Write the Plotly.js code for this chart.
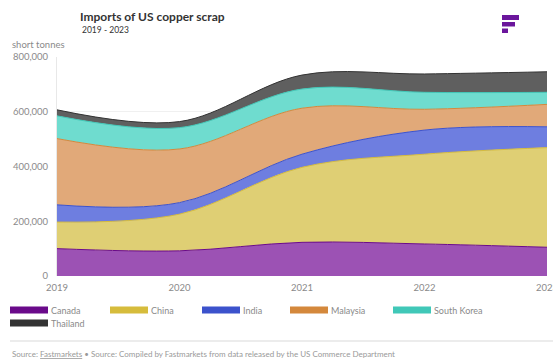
<!DOCTYPE html>
<html><head><meta charset="utf-8">
<script src="https://cdn.plot.ly/plotly-3.0.1.min.js"></script>
<style>html,body{margin:0;padding:0;background:#fff}#chart{width:553px;height:363px}</style>
</head><body><div id="chart"></div>
<script>
// ---- data ----
const years = [2019, 2020, 2021, 2022, 2023];
const seriesNames = ['Canada', 'China', 'India', 'Malaysia', 'South Korea', 'Thailand'];
const canada     = [100000,  92000, 123000, 117000, 105000];
const china      = [ 97000, 134000, 274000, 328000, 364000];
const india      = [ 63000,  42000,  48000,  88000,  76000];
const malaysia   = [242000, 196000, 168000,  76000,  82000];
const southKorea = [ 83000,  78000,  70000,  62000,  44000];
const thailand   = [ 22000,  22000,  51000,  67000,  75000];
const yTickVals  = [0, 200000, 400000, 600000, 800000];
const yTickText  = ['0', '200,000', '400,000', '600,000', '800,000'];

// ---- styles ----
const seriesValues = [canada, china, india, malaysia, southKorea, thailand];
const lineColors = ['#6a0a8a', '#d6bc3c', '#3c52cc', '#d4883c', '#40c8b8', '#333333'];
const fillColors = ['#9c52b4', '#dfcf74', '#6e7ee0', '#e1a979', '#6fdccf', '#5f5f5f'];
const FONT = 'Lato, "Open Sans", sans-serif';

const W = 553, H = 363;
const L = 57, R = 547, T = 57, B = 276;
const px = x => (x - L) / (R - L);
const py = y => (B - y) / (B - T);

const traces = seriesNames.map((name, i) => ({
  type: 'scatter', mode: 'lines', name: name,
  x: years, y: seriesValues[i], stackgroup: 'one',
  line: {shape: 'spline', smoothing: 1, color: lineColors[i], width: 1},
  fillcolor: fillColors[i], hoverinfo: 'skip'
}));

const shapes = [];
const annotations = [];
// legend (manual, wide swatches)
const legPos = [[10, 310], [110, 310], [202, 310], [290, 310], [393, 310], [10, 323]];
seriesNames.forEach((name, i) => {
  const [lx, ly] = legPos[i];
  shapes.push({type: 'rect', xref: 'paper', yref: 'paper',
    x0: px(lx), x1: px(lx + 38), y0: py(ly + 3.5), y1: py(ly - 3.5),
    fillcolor: lineColors[i], line: {width: 0}});
  annotations.push({xref: 'paper', yref: 'paper', x: px(lx + 39), y: py(ly),
    xanchor: 'left', yanchor: 'middle', showarrow: false, text: name,
    font: {family: FONT, size: 9, color: '#8a8a8a'}});
});
// separator line
shapes.push({type: 'line', xref: 'paper', yref: 'paper', x0: px(10), x1: px(553),
  y0: py(341), y1: py(341), line: {color: '#e6e6e6', width: 1.5}});
// logo
const logoBars = [[502, 519, 15, 20], [502, 515, 22, 26.5], [502, 508, 28.5, 33]];
logoBars.forEach(b => shapes.push({type: 'rect', xref: 'paper', yref: 'paper',
  x0: px(b[0]), x1: px(b[1]), y0: py(b[3]), y1: py(b[2]),
  fillcolor: '#6b169c', line: {width: 0}}));
// subtitle
annotations.push({xref: 'paper', yref: 'paper', x: px(80), y: py(30), xanchor: 'left',
  yanchor: 'middle', showarrow: false, text: '2019 - 2023',
  font: {family: FONT, size: 8.5, color: '#333333'}});
// y axis unit
annotations.push({xref: 'paper', yref: 'paper', x: px(10), y: py(44), xanchor: 'left',
  yanchor: 'middle', showarrow: false, text: 'short tonnes',
  font: {family: FONT, size: 9.5, color: '#8a8a8a'}});
// source
annotations.push({xref: 'paper', yref: 'paper', x: px(10), y: py(354), xanchor: 'left',
  yanchor: 'middle', showarrow: false,
  text: 'Source: <u>Fastmarkets</u> • Source: Compiled by Fastmarkets from data released by the US Commerce Department',
  font: {family: FONT, size: 8, color: '#999999'}});

const layout = {
  width: W, height: H,
  margin: {l: L, r: W - R, t: T, b: H - B, pad: 0},
  paper_bgcolor: '#fff', plot_bgcolor: '#fff',
  showlegend: false,
  title: {text: '<b>Imports of US copper scrap</b>', xref: 'container', yref: 'container',
    x: 80 / W, xanchor: 'left', y: 1 - 17 / H, yanchor: 'middle',
    font: {family: FONT, size: 12, color: '#333333'}},
  xaxis: {range: [2019, 2023], tickvals: years, ticktext: years.map(String),
    showgrid: false, zeroline: false, showline: false, ticks: '',
    ticklabeloverflow: 'allow',
    tickfont: {family: FONT, size: 9.5, color: '#8a8a8a'}, ticklabelstandoff: 4},
  yaxis: {range: [0, 800000], tickvals: yTickVals, ticktext: yTickText,
    showgrid: true, gridcolor: '#f0f0f0', zeroline: false,
    showline: true, linecolor: '#e8e8e8', linewidth: 1, ticks: '',
    tickfont: {family: FONT, size: 9.5, color: '#8a8a8a'}, ticklabelstandoff: 6},
  shapes: shapes, annotations: annotations
};

Plotly.newPlot('chart', traces, layout, {staticPlot: true, displayModeBar: false});
</script></body></html>
